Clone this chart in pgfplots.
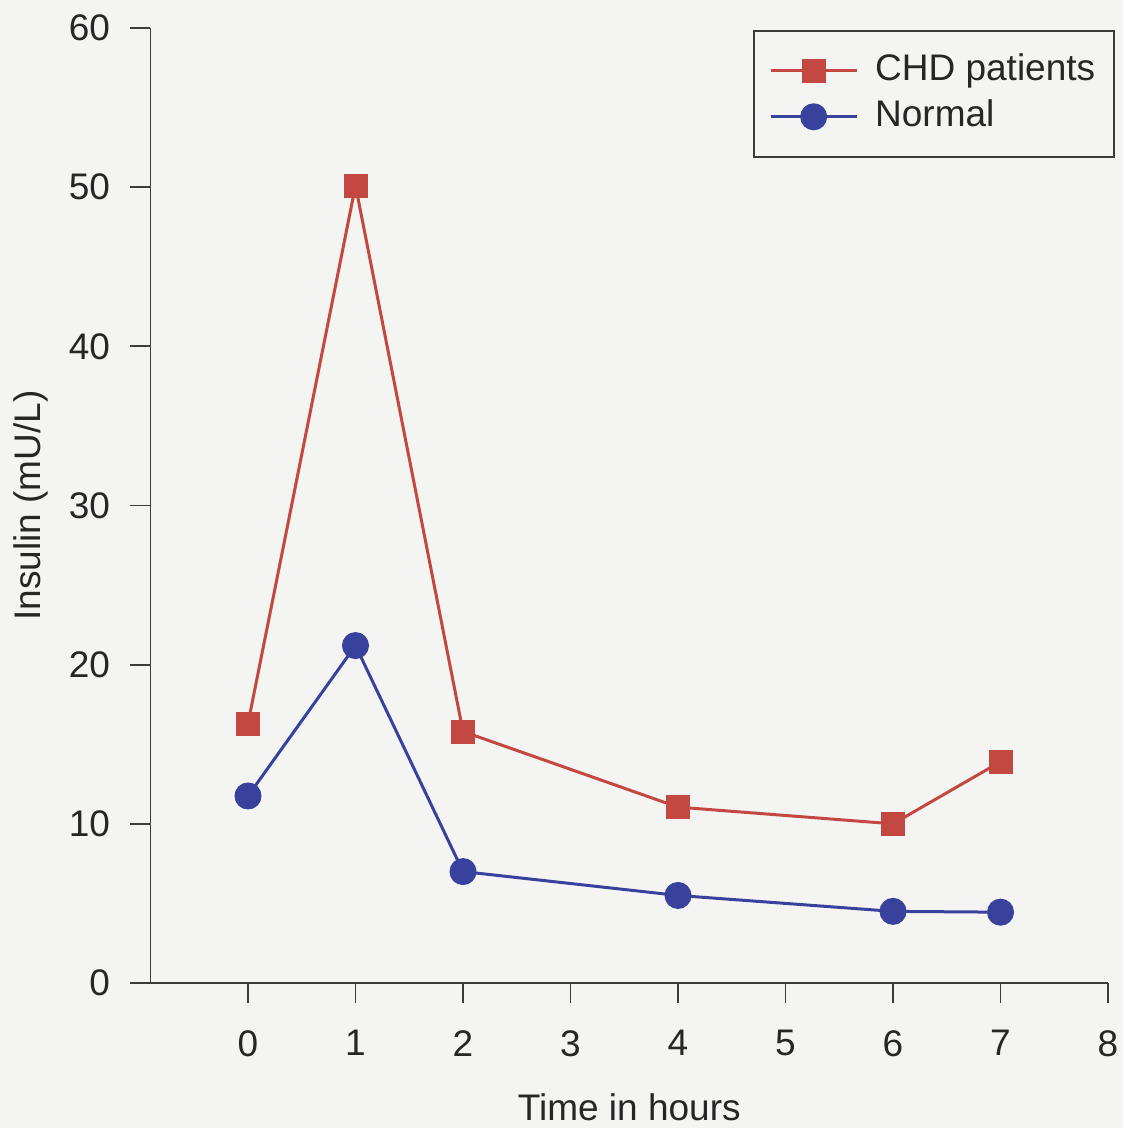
\documentclass[border=0pt]{standalone}
\usepackage{fontspec}
\setmainfont{Liberation Sans}
\usepackage{pgfplots}
\pgfplotsset{compat=1.18}
\definecolor{chd}{RGB}{196,72,66}
\definecolor{norm}{RGB}{56,66,156}
\definecolor{bg}{RGB}{244,244,242}
\definecolor{ax}{RGB}{60,60,60}
\begin{document}
\begin{tikzpicture}
\fill[bg] (-75.25pt,-72.5pt) rectangle (486.25pt,491.5pt);
\begin{axis}[
  at={(0,0)}, anchor=south west,
  scale only axis,
  width=478.75pt, height=477.5pt,
  xmin=-0.907, xmax=8, ymin=0, ymax=60,
  axis lines*=left,
  axis line style={line width=0.85pt, ax},
  xtick={0,1,2,3,4,5,6,7,8},
  ytick={0,10,20,30,40,50,60},
  tick align=outside,
  major tick length=10pt,
  tick style={line width=0.85pt, ax},
  tick label style={font=\fontsize{18.5}{22}\selectfont, text=black!85},
  /pgf/number format/assume math mode=true,
  xticklabel style={yshift=-10.1pt},
  yticklabel style={xshift=-6.7pt},
  xlabel={Time in hours},
  ylabel={Insulin (mU/L)},
  label style={font=\fontsize{18.5}{22}\selectfont, text=black!85},
  xlabel style={at={(axis description cs:0.5,0)}, anchor=center, yshift=-62pt},
  ylabel style={at={(axis description cs:-0.1253,0.5)}, anchor=center},
  legend style={at={(482.25pt,476.5pt)}, anchor=north east, draw=ax, line width=0.8pt,
    fill=bg, font=\fontsize{18.5}{22}\selectfont,
    inner xsep=7.5pt, inner ysep=9.25pt, row sep=1.5pt, column sep=6.5pt,
    nodes={inner sep=2pt, text height=13.5pt, text depth=4pt, text=black!85},
    cells={anchor=west}},
  legend image code/.code={
    \draw[mark repeat=2, mark phase=2, #1] plot coordinates {(0pt,0pt) (21.5pt,0pt) (43pt,0pt)};
  },
]
\addplot[chd, line width=1.5pt, mark=square*, mark size=5.75pt, mark options={solid, fill=chd, draw=chd, line width=0.5pt}]
  coordinates {(0,16.3) (1,50.1) (2,15.8) (4,11.05) (6,10.0) (7,13.9)};
\addlegendentry{CHD patients}
\addplot[norm, line width=1.5pt, mark=*, mark size=6.5pt, mark options={solid, fill=norm, draw=norm, line width=0.5pt}]
  coordinates {(0,11.75) (1,21.2) (2,7.0) (4,5.5) (6,4.5) (7,4.45)};
\addlegendentry{Normal}
\end{axis}
\pgfresetboundingbox
\useasboundingbox (-75.25pt,-72.5pt) rectangle (486.25pt,491.5pt);
\end{tikzpicture}
\end{document}
